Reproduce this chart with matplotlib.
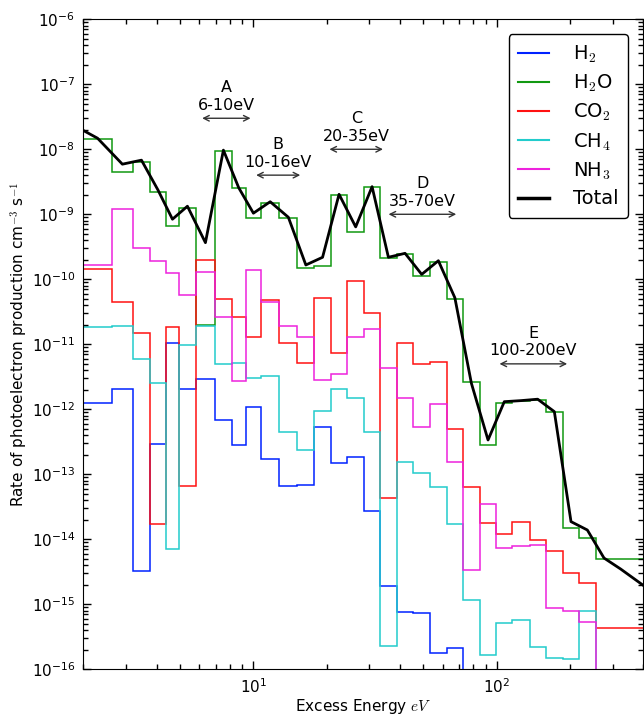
import matplotlib
matplotlib.use('Agg')
import matplotlib.pyplot as plt
from matplotlib.lines import Line2D
from matplotlib.ticker import LogLocator, NullFormatter
import numpy as np

plt.rcParams['mathtext.fontset'] = 'cm'
plt.rcParams['font.family'] = ['DejaVu Sans']

# bin edges of the excess energy grid (eV)
edges = np.array([1.7, 2.0, 2.62, 3.20, 3.76, 4.37, 4.95, 5.80, 6.96, 8.15, 9.31,
                  10.75, 12.79, 15.16, 17.81, 20.80, 24.33, 28.50, 33.17, 38.83,
                  45.44, 53.21, 62.30, 72.7, 85.2, 99.6, 115.9, 136.6, 158.9,
                  187.3, 217.8, 255.1, 298.6, 349.5, 409.2, 479.0])

# photoelectron production rates per bin (cm^-3 s^-1), 1e-18 = below axis
h2 = [1.76e-14, 1.24e-12, 2.03e-12, 3.3e-15, 2.9e-13, 1.04e-11, 2.07e-12, 2.92e-12,
      6.8e-13, 2.82e-13, 1.10e-12, 1.70e-13, 6.7e-14, 6.8e-14, 5.4e-13, 1.51e-13,
      1.83e-13, 2.75e-14, 1.91e-15, 7.5e-16, 7.4e-16, 1.76e-16, 2.1e-16, 1e-18,
      1e-18, 1e-18, 1e-18, 1e-18, 1e-18, 1e-18, 1e-18, 1e-18, 1e-18, 1e-18, 1e-18]
h2o = [2.23e-8, 1.43e-8, 4.52e-9, 6.45e-9, 2.23e-9, 6.6e-10, 1.26e-9, 1.98e-11,
       9.5e-9, 2.51e-9, 8.7e-10, 1.48e-9, 8.7e-10, 1.48e-10, 1.62e-10, 1.98e-9,
       5.3e-10, 2.60e-9, 2.15e-10, 2.43e-10, 1.14e-10, 1.87e-10, 4.9e-11, 2.66e-12,
       2.82e-13, 1.26e-12, 1.34e-12, 1.39e-12, 9.1e-13, 1.51e-14, 1.04e-14, 4.98e-15,
       4.98e-15, 4.98e-15, 4.98e-15]
co2 = [7.6e-11, 1.43e-10, 4.4e-11, 1.51e-11, 1.72e-14, 1.83e-11, 6.6e-14, 1.98e-10,
       5.0e-11, 2.66e-11, 1.28e-11, 4.8e-11, 1.06e-11, 5.2e-12, 5.2e-11, 7.4e-12,
       9.5e-11, 3.0e-11, 4.3e-14, 1.04e-11, 4.98e-12, 5.3e-12, 4.9e-13, 6.4e-14,
       1.76e-14, 1.21e-14, 1.83e-14, 9.8e-15, 6.6e-15, 3.06e-15, 2.1e-15, 4.3e-16,
       4.3e-16, 4.3e-16, 4.3e-16]
ch4 = [7.6e-11, 1.83e-11, 1.91e-11, 5.9e-12, 2.51e-12, 7.1e-15, 9.8e-12, 1.91e-11,
       4.98e-12, 5.2e-12, 3.0e-12, 3.25e-12, 4.4e-13, 2.37e-13, 9.5e-13, 2.05e-12,
       1.51e-12, 4.4e-13, 2.28e-16, 1.53e-13, 1.06e-13, 6.4e-14, 1.70e-14, 1.16e-15,
       1.66e-16, 5.2e-16, 5.7e-16, 2.23e-16, 1.51e-16, 1.43e-16, 8.0e-16, 1e-18,
       1e-18, 1e-18, 1e-18]
nh3 = [2.51e-9, 1.66e-10, 1.19e-9, 3.0e-10, 1.91e-10, 1.24e-10, 5.7e-11, 1.28e-10,
       2.6e-11, 2.75e-12, 1.39e-10, 4.4e-11, 1.91e-11, 1.31e-11, 2.82e-12, 3.5e-12,
       1.28e-11, 1.72e-11, 4.3e-12, 1.48e-12, 5.4e-13, 1.19e-12, 1.53e-13, 3.4e-15,
       3.45e-14, 7.4e-15, 7.9e-15, 8.2e-15, 8.7e-16, 7.9e-16, 5.4e-16, 1e-18,
       1e-18, 1e-18, 1e-18]
total = [2.3e-8, 1.48e-8, 5.9e-9, 6.8e-9, 2.37e-9, 8.4e-10, 1.33e-9, 3.66e-10,
         9.7e-9, 2.55e-9, 1.04e-9, 1.56e-9, 9.0e-10, 1.66e-10, 2.18e-10, 2.03e-9,
         6.4e-10, 2.66e-9, 2.18e-10, 2.51e-10, 1.19e-10, 1.93e-10, 5.2e-11, 2.51e-12,
         3.37e-13, 1.31e-12, 1.36e-12, 1.43e-12, 9.2e-13, 1.87e-14, 1.39e-14, 5.15e-15,
         3.49e-15, 2.28e-15, 1.49e-15]

labels = ['H$_2$', 'H$_2$O', 'CO$_2$', 'CH$_4$', 'NH$_3$']
colors = ['#0022ff', '#119911', '#ff1111', '#22cccc', '#ee22dd']

# energy ranges A-E
band_text = ['A\n6-10eV', 'B\n10-16eV', 'C\n20-35eV', 'D\n35-70eV', 'E\n100-200eV']
band_lo = [6, 10, 20, 35, 100]
band_hi = [10, 16, 35, 70, 200]
band_y = [3.0e-8, 4.0e-9, 1.0e-8, 1.0e-9, 5.0e-12]

fig = plt.figure(figsize=(6.44, 7.19), dpi=100)
ax = fig.add_axes([0.1293, 0.0691, 0.8695, 0.9041])

handles = []
for vals, lab, col in zip([h2, h2o, co2, ch4, nh3], labels, colors):
    ax.stairs(vals, edges, baseline=None, color=col, lw=1.1)
    handles.append(Line2D([], [], color=col, lw=1.5, label=lab))

centers = np.sqrt(edges[:-1] * edges[1:])
ax.plot(centers, total, color='k', lw=2)
handles.append(Line2D([], [], color='k', lw=2.5, label='Total'))

for txt, lo, hi, yy in zip(band_text, band_lo, band_hi, band_y):
    ax.annotate('', xy=(hi, yy), xytext=(lo, yy),
                arrowprops=dict(arrowstyle='<->', color='#333333', lw=1))
    ax.annotate(txt, xy=(np.sqrt(lo * hi), yy), xytext=(0, 4),
                textcoords='offset points', ha='center', va='bottom', fontsize=11.5)

ax.set_xscale('log')
ax.set_yscale('log')
ax.set_xlim(2, 400)
ax.set_ylim(1e-16, 1e-6)
ax.yaxis.set_major_locator(LogLocator(base=10, numticks=20))
ax.yaxis.set_minor_locator(LogLocator(base=10, subs=np.arange(2, 10), numticks=20))
ax.yaxis.set_minor_formatter(NullFormatter())
ax.xaxis.set_minor_formatter(NullFormatter())
ax.tick_params(which='both', direction='in', top=True, right=True, labelsize=11)
ax.tick_params(which='major', length=6, width=1, pad=6)
ax.tick_params(which='minor', length=3.5, width=1)

ax.set_xlabel('Excess Energy $eV$', fontsize=11, labelpad=0.5)
ax.set_ylabel('Rate of photoelectron production cm$^{-3}$ s$^{-1}$', fontsize=11, labelpad=1)

leg = ax.legend(handles=handles, loc='upper right', bbox_to_anchor=(0.973, 0.977),
                borderaxespad=0, fontsize=14, fancybox=True, framealpha=1,
                handlelength=1.6, handletextpad=1.2, borderpad=0.5, labelspacing=0.4)
leg.get_frame().set_edgecolor('black')

fig.savefig('out.png', dpi=100)
